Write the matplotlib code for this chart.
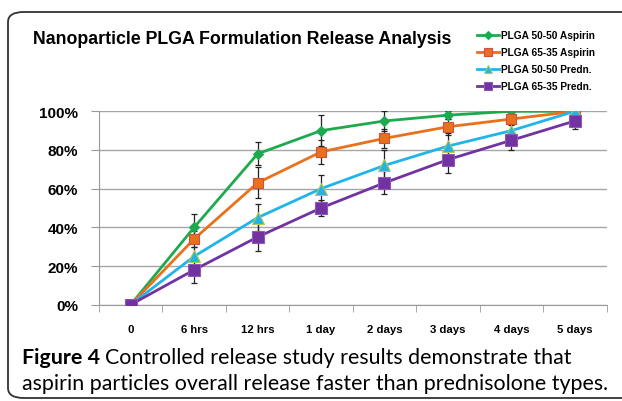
import matplotlib
matplotlib.use("Agg")
import matplotlib.pyplot as plt
from matplotlib.patches import FancyBboxPatch

# data
times = ["0", "6 hrs", "12 hrs", "1 day", "2 days", "3 days", "4 days", "5 days"]
aspirin_5050 = [0, 40, 78, 90, 95, 98, 100, 100]
aspirin_6535 = [0, 34, 63, 79, 86, 92, 96, 100]
predn_5050 = [0, 25, 45, 60, 72, 82, 90, 100]
predn_6535 = [0, 18, 35, 50, 63, 75, 85, 95]
err_aspirin_5050 = [0, 7, 6, 8, 5, 2, 1, 0]
err_aspirin_6535 = [0, 4, 8, 6, 5, 4, 3, 1]
err_predn_5050 = [0, 5, 7, 7, 8, 7, 4, 1]
err_predn_6535 = [0, 7, 7, 4, 6, 7, 5, 4]
labels = ["PLGA 50-50 Aspirin", "PLGA 65-35 Aspirin", "PLGA 50-50 Predn.", "PLGA 65-35 Predn."]

series = [
    (aspirin_5050, err_aspirin_5050, "#1DAA4E", "D", 5, "#1DAA4E"),
    (aspirin_6535, err_aspirin_6535, "#E9711C", "s", 7, "#D0503A"),
    (predn_5050, err_predn_5050, "#20B5EA", "^", 8, "#B5C84A"),
    (predn_6535, err_predn_6535, "#7232A2", "s", 8.5, "#8A5AB5"),
]

fig = plt.figure(figsize=(6.22, 4.02), dpi=100)
ax = fig.add_axes([99 / 622, 1 - 305.7 / 402, (606.5 - 99) / 622, (305.7 - 112.3) / 402])

x = list(range(len(times)))
handles = []
for (vals, errs, col, mk, ms, ec), lab in zip(series, labels):
    ax.errorbar(x, vals, yerr=errs, fmt="none", ecolor="#222222", elinewidth=0.9,
                capsize=2.5, capthick=0.9, zorder=3)
for (vals, errs, col, mk, ms, ec), lab in zip(series, labels):
    h, = ax.plot(x, vals, color=col, lw=2, marker=mk, ms=ms, mfc=col, mec=ec,
                 mew=0.8, label=lab, zorder=4)
    handles.append(h)

ax.set_xlim(-0.5, len(times) - 0.5)
ax.set_ylim(0, 100)
ax.set_yticks([0, 20, 40, 60, 80, 100])
ax.set_yticklabels([f"{v}%" for v in [0, 20, 40, 60, 80, 100]],
                   fontsize=11, fontweight="bold", family="Liberation Sans")
ax.set_xticks(x)
ax.set_xticklabels(times, fontsize=8.2, fontweight="bold", family="Liberation Sans")
ax.set_xticks([i - 0.5 for i in range(len(times) + 1)], minor=True)
ax.tick_params(axis="x", which="major", length=0, pad=14)
ax.tick_params(axis="x", which="minor", length=5, color="#9A9A9A", direction="out")
ax.tick_params(axis="y", length=6, color="#9A9A9A", direction="out", pad=9)
ax.yaxis.grid(True, color="#A6A6A6", lw=1)
ax.set_axisbelow(True)
for s in ["top", "right"]:
    ax.spines[s].set_visible(False)
for s in ["left", "bottom"]:
    ax.spines[s].set_color("#9A9A9A")

fig.text(33 / 622, 1 - 40 / 402, "Nanoparticle PLGA Formulation Release Analysis",
         fontsize=12.8, fontweight="bold", family="Liberation Sans", va="center")

fig.legend(handles=handles, loc="upper left", bbox_to_anchor=(468 / 622, 1 - 22 / 402),
           frameon=False, prop={"family": "Liberation Sans", "weight": "bold", "size": 7.3},
           handlelength=2.2, handletextpad=0.2, labelspacing=0.7, markerscale=0.75)

# caption: bold "Figure 4" followed by regular text
t1 = fig.text(22 / 622, 1 - 358 / 402, "Figure 4", fontsize=15.4, fontweight="bold",
              va="center", family="Lato")
fig.canvas.draw()
bb = t1.get_window_extent()
fig.text((bb.x1 + 5) / 622, 1 - 358 / 402,
         "Controlled release study results demonstrate that",
         fontsize=15.4, va="center", family="Lato")
fig.text(22 / 622, 1 - 384 / 402,
         "aspirin particles overall release faster than prednisolone types.",
         fontsize=15.4, va="center", family="Lato")

frame = FancyBboxPatch((8 / 622, 3 / 402), 700 / 622, (389 - 3) / 402,
                       boxstyle="round,pad=0,rounding_size=0.025",
                       transform=fig.transFigure, fill=False, ec="#333333", lw=1.3,
                       clip_on=False)
fig.patches.append(frame)

fig.savefig("out.png", dpi=100)
